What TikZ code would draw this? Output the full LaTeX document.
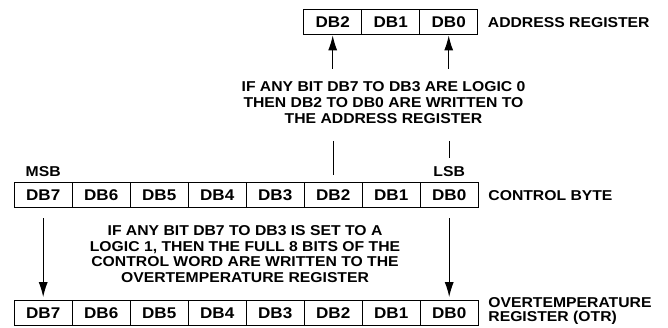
\documentclass[tikz,border=0pt]{standalone}
\usepackage{fontspec}
\setmainfont{Liberation Sans}[FakeStretch=1.1]
\usetikzlibrary{matrix,positioning,arrows.meta}
\tikzset{
regcell/.style={
  draw,
  minimum width=58pt,
  minimum height=25pt,
  inner sep=0pt,
  font=\fontsize{15.5}{17}\selectfont\bfseries
  },
regrow/.style={
  matrix of nodes,
  inner sep=0pt,
  column sep=-\pgflinewidth,
  nodes={regcell}
  },
lowbits/.style={
  column 6/.style={fill=gray!35},
  column 7/.style={fill=gray!35},
  column 8/.style={fill=gray!35}
  },
note/.style={align=center,inner sep=0pt,font=\fontsize{14.3}{15.8}\selectfont\bfseries},
lbl/.style={align=left,inner sep=0pt,font=\fontsize{14.3}{13.5}\selectfont\bfseries}
}
\begin{document}
\begin{tikzpicture}[x=1pt,y=1pt,line width=1.2pt,>={Latex[length=15pt,width=9pt]}]
            \useasboundingbox (0,0) rectangle (668,327);
            \matrix[regrow,lowbits,anchor=north west] (ctrl) at (13,145.5)
            {
                DB7 & DB6 & DB5 & DB4 & DB3 & DB2 & DB1 & DB0 \\
            };
            \matrix[regrow,lowbits,anchor=north west] (otr) at (13,27.5)
            {
                DB7 & DB6 & DB5 & DB4 & DB3 & DB2 & DB1 & DB0 \\
            };
            \matrix[regrow,anchor=north west] (addr) at (302.5,318.5)
            {
                DB2 & DB1 & DB0 \\
            };
            \node[lbl,above=5pt of ctrl-1-1] (msb) {MSB};
            \node[lbl,above=5pt of ctrl-1-8] (lsb) {LSB};
            \node[lbl,right=9pt of ctrl-1-8] (ctrllbl) {CONTROL BYTE};
            \node[lbl,right=9pt of addr-1-3] (addrlbl) {ADDRESS REGISTER};
            \node[lbl,right=9pt of otr-1-8,yshift=2.5pt] (otrlbl) {OVERTEMPERATURE\\REGISTER (OTR)};
            \node[note] (addrnote) at (383.5,224.6)
                {IF ANY BIT DB7 TO DB3 ARE LOGIC 0\\THEN DB2 TO DB0 ARE WRITTEN TO\\THE ADDRESS REGISTER};
            \node[note] (otrnote) at (245,73)
                {IF ANY BIT DB7 TO DB3 IS SET TO A\\LOGIC 1, THEN THE FULL 8 BITS OF THE\\CONTROL WORD ARE WRITTEN TO THE\\OVERTEMPERATURE REGISTER};
            \draw[->] ([yshift=12pt]addrnote.north -| addr-1-1) -- (addr-1-1);
            \draw[->] ([yshift=12pt]addrnote.north -| addr-1-3) -- (addr-1-3);
            \draw ([yshift=-17pt]addrnote.south -| ctrl-1-6) -- ([yshift=7pt]ctrl-1-6.north);
            \draw ([yshift=-17pt]addrnote.south -| lsb) -- ([yshift=8pt]lsb.north);
            \draw[->,shorten >=3pt] ([yshift=-10pt]ctrl-1-1.south) -- (otr-1-1);
            \draw[->,shorten >=3pt] ([yshift=-10pt]ctrl-1-8.south) -- (otr-1-8);
        \end{tikzpicture}
\end{document}
